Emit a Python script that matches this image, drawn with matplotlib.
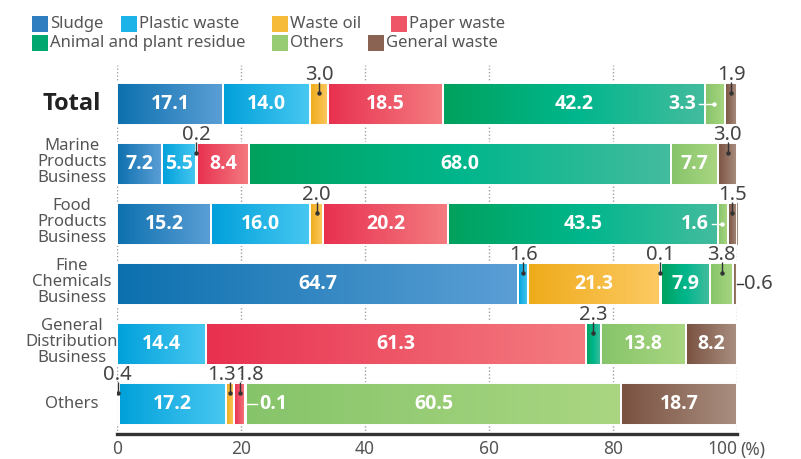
import matplotlib
matplotlib.use("Agg")
import matplotlib.pyplot as plt
import numpy as np
from matplotlib.colors import LinearSegmentedColormap
from matplotlib.patches import Rectangle
from matplotlib import font_manager

plt.rcParams['font.family'] = ['Noto Sans', 'DejaVu Sans']

# pick a family that really has a bold face
bold_family = 'DejaVu Sans'
for fam in ['Noto Sans', 'Open Sans', 'Lato', 'Roboto']:
    try:
        fp = font_manager.findfont(font_manager.FontProperties(family=fam, weight='bold'),
                                   fallback_to_default=False)
        if 'bold' in fp.lower() or 'Bold' in fp:
            bold_family = fam
            break
    except Exception:
        pass

# ---------------- data ----------------
waste_types = ["Sludge", "Plastic waste", "Waste oil", "Paper waste",
               "Animal and plant residue", "Others", "General waste"]
segments = ["Total", "Marine\nProducts\nBusiness", "Food\nProducts\nBusiness",
            "Fine\nChemicals\nBusiness", "General\nDistribution\nBusiness", "Others"]

sludge        = [17.1, 7.2, 15.2, 64.7, 0.0, 0.4]
plastic_waste = [14.0, 5.5, 16.0, 1.6, 14.4, 17.2]
waste_oil     = [3.0, 0.2, 2.0, 21.3, 0.0, 1.3]
paper_waste   = [18.5, 8.4, 20.2, 0.1, 61.3, 1.8]
animal_plant  = [42.2, 68.0, 43.5, 7.9, 2.3, 0.1]
others        = [3.3, 7.7, 1.6, 3.8, 13.8, 60.5]
general_waste = [1.9, 3.0, 1.5, 0.6, 8.2, 18.7]

series = [sludge, plastic_waste, waste_oil, paper_waste, animal_plant, others, general_waste]
x_ticks = [0, 20, 40, 60, 80, 100]
x_tick_labels = ["0", "20", "40", "60", "80", "100"]

# ---------------- styles ----------------
gradients = [
    ['#0c70ae', '#5c9fd6'],
    ['#00a0da', '#48c8f1'],
    ['#eeab1a', '#fdca64'],
    ['#e8304f', '#f47d81'],
    ['#00a15d', '#00b68c', '#44bc9e'],
    ['#86c46a', '#aad682'],
    ['#7a5141', '#a98f80'],
]
legend_colors = ['#2f7fc0', '#1cb4e8', '#f7bb3a', '#ee5566', '#00a870', '#98cc74', '#8a6352']

# callouts: (row, type index, kind, x shift of the text)
callouts = [
    (0, 2, 'above', 0.0), (0, 6, 'above', 0.0), (0, 5, 'inside', 0.0),
    (1, 2, 'above', 0.0), (1, 6, 'above', 0.0),
    (2, 2, 'above', 0.0), (2, 5, 'inside', 0.0), (2, 6, 'above', 0.0),
    (3, 1, 'above', 0.0), (3, 3, 'above', 0.0), (3, 5, 'above', 0.0), (3, 6, 'right', 0.0),
    (4, 4, 'above', 0.0),
    (5, 0, 'above', -0.1), (5, 2, 'above', -1.4), (5, 3, 'above', 1.5), (5, 4, 'inside_right', 0.0),
]
inside_min = 5.0

W, H = 801, 459
fig = plt.figure(figsize=(W / 100, H / 100), dpi=100)
ax = fig.add_axes([117 / W, 25 / H, 620 / W, 369 / H])

bold_kw = dict(family=[bold_family, 'DejaVu Sans'], fontweight='bold')

y = np.arange(len(segments))
bar_h = 0.7
lefts = np.zeros(len(segments))
all_lefts = []
for k, vals in enumerate(series):
    vals = np.array(vals)
    bars = ax.barh(y, vals, left=lefts, height=bar_h, facecolor='none',
                   edgecolor='white', linewidth=1.4, zorder=3)
    cmap = LinearSegmentedColormap.from_list(f"g{k}", gradients[k])
    grad = np.linspace(0, 1, 256).reshape(1, -1)
    for p, v in zip(bars.patches, vals):
        if v <= 0:
            p.set_visible(False)
            continue
        x0, w = p.get_x(), p.get_width()
        y0, h = p.get_y(), p.get_height()
        ax.imshow(grad, extent=(x0, x0 + w, y0 + h, y0), cmap=cmap,
                  aspect='auto', zorder=2, interpolation='bilinear')
    all_lefts.append(lefts.copy())
    for i, v in enumerate(vals):
        if v >= inside_min:
            ax.text(lefts[i] + v / 2, y[i], f"{v:.1f}", ha='center', va='center',
                    color='white', fontsize=14, zorder=5, **bold_kw)
    lefts = lefts + vals

ax.set_xlim(0, 100)
ax.set_ylim(5.5, -0.65)

# callouts
lc = '#333333'
tc = '#444444'
for row, k, kind, dx in callouts:
    v = series[k][row]
    x0 = all_lefts[k][row]
    xc = x0 + v / 2
    top = y[row] - bar_h / 2
    if kind == 'above':
        ax.plot([xc, xc], [top - 0.02, top + 0.16], color=lc, lw=1.0, zorder=6,
                solid_capstyle='butt')
        ax.plot([xc], [top + 0.16], 'o', color=lc, ms=2.2, zorder=6)
        ax.text(xc + dx, top - 0.045, f"{v:.1f}", ha='center', va='baseline',
                fontsize=14.5, color=tc, zorder=6, clip_on=False)
    elif kind == 'inside':
        ax.plot([x0 - 0.9, xc - 0.2], [y[row], y[row]], color='white', lw=1.0, zorder=6)
        ax.plot([xc - 0.2], [y[row]], 'o', color='white', ms=2.2, zorder=6)
        ax.text(x0 - 1.4, y[row], f"{v:.1f}", ha='right', va='center', color='white',
                fontsize=14, zorder=6, **bold_kw)
    elif kind == 'inside_right':
        ax.plot([x0 + v, x0 + v + 1.8], [y[row], y[row]], color='white', lw=1.0, zorder=6)
        ax.text(x0 + v + 2.1, y[row], f"{v:.1f}", ha='left', va='center', color='white',
                fontsize=14, zorder=6, **bold_kw)
    elif kind == 'right':
        ax.plot([100, 101.0], [y[row], y[row]], color=lc, lw=1.0, zorder=6, clip_on=False)
        ax.text(101.2, y[row], f"{v:.1f}", ha='left', va='center', fontsize=14.5,
                color=tc, zorder=6, clip_on=False)

# category labels
for i, lab in enumerate(segments):
    if i == 0:
        ax.text(-7.3, y[i], lab, ha='center', va='center', fontsize=17,
                color='#222222', clip_on=False, **bold_kw)
    else:
        shift = -0.03 if '\n' in lab else 0.0
        ax.text(-7.3, y[i] + shift, lab, ha='center', va='center', fontsize=12,
                color='#555555', linespacing=1.02, multialignment='center', clip_on=False)

# grid & axes
for xt in x_ticks:
    ax.axvline(xt, color='#a0a0a0', lw=1.0, linestyle=(0, (1, 1.5)), zorder=1)
for s in ['top', 'right', 'left']:
    ax.spines[s].set_visible(False)
ax.spines['bottom'].set_color('#333333')
ax.spines['bottom'].set_linewidth(2.4)
ax.spines['bottom'].set_zorder(7)
ax.set_yticks([])
ax.set_xticks(x_ticks)
ax.set_xticklabels(x_tick_labels, fontsize=12.5, color='#555555')
ax.tick_params(axis='x', length=0, pad=4)
ax.get_xticklabels()[-1].set_ha('right')
ax.annotate('(%)', xy=(100, 0), xycoords=('data', 'axes fraction'), xytext=(2.5, -11.5),
            textcoords='offset points', ha='left', va='center', fontsize=12.5, color='#555555',
            annotation_clip=False)

# legend (manual, two rows)
legend_pos = [(32, 24), (121, 24), (272, 24), (391, 24), (32, 43), (272, 43), (368, 43)]
for (px, py), name, col in zip(legend_pos, waste_types, legend_colors):
    fig.patches.append(Rectangle((px / W, 1 - (py + 8) / H), 16 / W, 16 / H,
                                 transform=fig.transFigure, facecolor=col, edgecolor='none'))
    fig.text((px + 18) / W, 1 - py / H, name, ha='left', va='center', fontsize=12,
             color='#555555')

fig.savefig("out.png", dpi=100)
